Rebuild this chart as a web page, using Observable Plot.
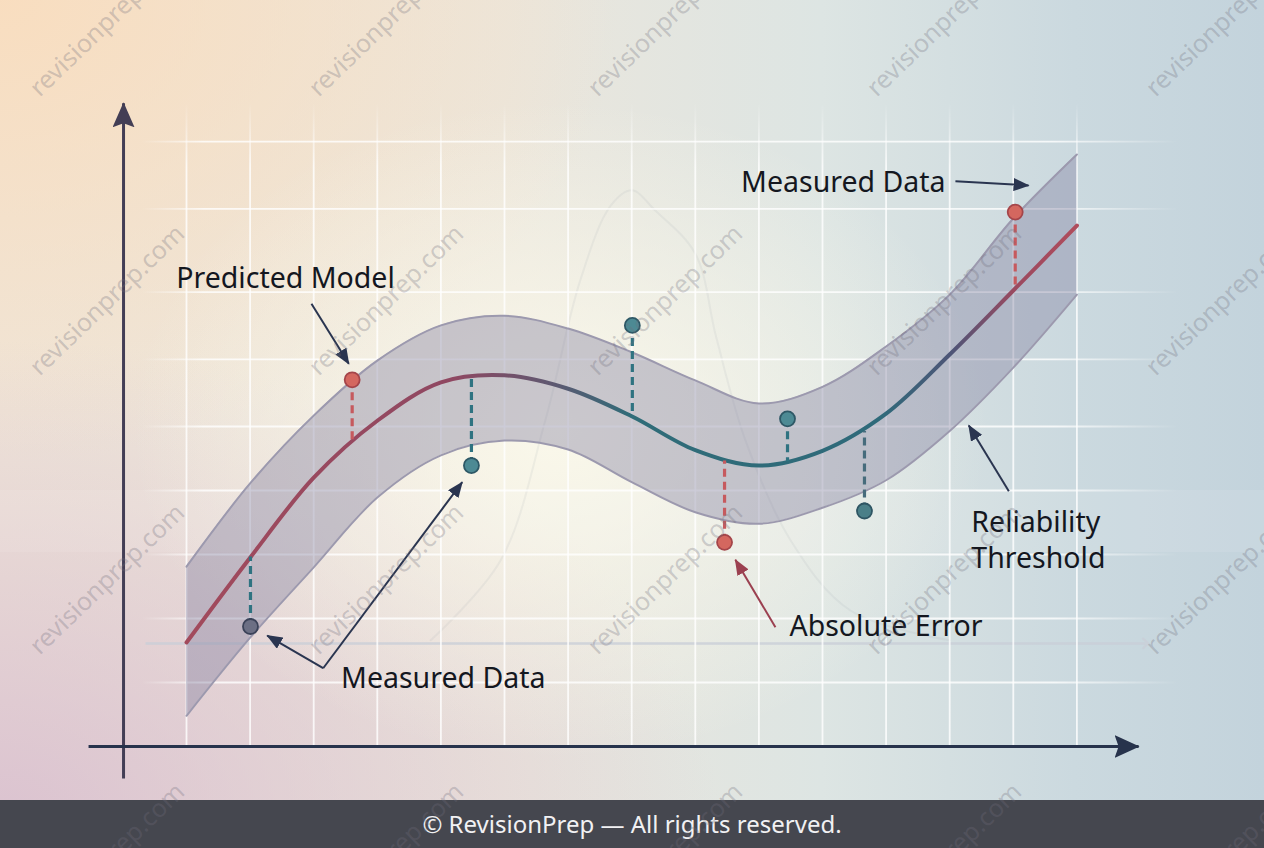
<!DOCTYPE html>
<html>
<head>
<meta charset="utf-8">
<script src="https://cdn.jsdelivr.net/npm/d3@7"></script>
<script src="https://cdn.jsdelivr.net/npm/@observablehq/plot@0.6"></script>
<style>
  html, body { margin: 0; padding: 0; }
  #wrap {
    position: relative; width: 1264px; height: 848px; overflow: hidden;
    font-family: "Noto Sans", sans-serif;
    background:
      radial-gradient(ellipse 430px 330px at 560px 430px, rgba(252,250,236,0.9), rgba(252,250,236,0) 100%),
      radial-gradient(ellipse 720px 480px at 0px 820px, rgba(214,186,206,0.8), rgba(214,186,206,0) 100%),
      radial-gradient(ellipse 620px 460px at 0px 0px, rgba(249,221,190,0.95), rgba(249,221,190,0) 100%),
      linear-gradient(90deg, #efe5d8 0%, #ebe6dc 40%, #dde5e3 65%, #cbd9df 85%, #c3d3dc 100%);
  }
  #chart { position: absolute; left: 0; top: 0; }
  #footer {
    position: absolute; left: 0; top: 800px; width: 1264px; height: 48px;
    background: #45474f; color: #f1f1f3; font-size: 24px; line-height: 48px;
    text-align: center; z-index: 1;
  }
  #wm { position: absolute; left: 0; top: 0; width: 1264px; height: 848px; pointer-events: none; z-index: 2; }
  #wm span {
    position: absolute; white-space: nowrap; font-size: 25px;
    color: rgba(112,110,124,0.30);
    transform: translate(-50%, -50%) rotate(-44deg);
  }
</style>
</head>
<body>
<div id="wrap">
  <div id="chart"></div>
  <div id="footer">© RevisionPrep — All rights reserved.</div>
  <div id="wm"></div>
</div>
<script>
// ---------- data ----------
const gridX = [0, 1, 2, 3, 4, 5, 6, 7, 8, 9, 10, 11, 12, 13, 14];
const gridY = [1, 2, 3, 4, 5, 6.05, 7.1, 8.4, 9.45];

const bandX     = [0, 1, 2, 3, 4, 5, 6, 7, 8, 9, 10, 11, 12, 13, 14];
const bandUpper = [2.81, 4.11, 5.17, 6.03, 6.58, 6.73, 6.53, 6.16, 5.72, 5.36, 5.62, 6.25, 7.06, 8.25, 9.25];
const bandLower = [0.48, 1.70, 2.80, 3.89, 4.55, 4.78, 4.64, 4.13, 3.66, 3.48, 3.73, 4.16, 4.93, 5.92, 7.06];
const modelY    = [1.625, 2.95, 4.20, 5.09, 5.69, 5.80, 5.59, 5.16, 4.63, 4.39, 4.62, 5.20, 6.125, 7.125, 8.14];

const measX     = [2.605, 4.48, 7.01, 8.46, 9.45, 10.66, 13.03, 1.006];
const measY     = [5.73, 4.39, 6.58, 3.19, 5.12, 3.68, 8.35, 1.875];
const measModel = [4.72, 5.75, 5.15, 4.46, 4.45, 4.92, 7.16, 2.96];
const measKind  = ["red", "teal", "teal", "red", "teal", "teal2", "red", "slate"];

const bellX = [3.84, 4.94, 5.64, 6.19, 6.67, 7.0, 7.37, 8.0, 8.33, 8.79, 9.5, 10.44, 12.0];
const bellY = [1.66, 2.91, 5.09, 7.28, 8.45, 8.69, 8.375, 7.70, 6.39, 4.78, 3.22, 2.125, 1.66];

const labels = ["Predicted Model", "Measured Data", "Measured Data", "Absolute Error", "Reliability", "Threshold"];
const labelX = [-0.16, 8.72, 2.43, 9.48, 12.34, 12.34];
const labelY = [7.30, 8.80, 1.06, 1.866, 3.49, 2.93];

const arrowX1 = [1.965, 12.09, 2.149, 2.149, 9.26, 12.93];
const arrowY1 = [6.917, 8.833, 1.223, 1.223, 1.864, 3.989];
const arrowX2 = [2.552, 13.24, 1.269, 4.335, 8.63, 12.30];
const arrowY2 = [5.98, 8.766, 1.734, 4.13, 2.917, 5.016];
const arrowKind = ["dark", "dark", "dark", "dark", "error", "dark"];

// ---------- styles ----------
const C = {
  dark: "#2a3550", error: "#9b4050", axisY: "#433e55", axisX: "#27334c",
  text: "#14171f", band: "#827fa0", bandEdge: "#9c99ae"
};
const dotFill   = {red: "#d4675f", teal: "#4d8a94", teal2: "#4a7f88", slate: "#6c6f84"};
const dotStroke = {red: "#a4454a", teal: "#2e5866", teal2: "#2e5563", slate: "#3b4258"};
const dashCol   = {red: "#c65a5e", teal: "#2f7381", teal2: "#466c7c", slate: "#2f7381"};

const mIdx = d3.range(measX.length);
const aDark = d3.range(arrowX1.length).filter(i => arrowKind[i] === "dark");
const aErr  = d3.range(arrowX1.length).filter(i => arrowKind[i] === "error");
const bell = bellX.map((x, i) => ({x, y: bellY[i]}));

const chart = Plot.plot({
  width: 1264, height: 800, margin: 0,
  style: {background: "transparent", fontFamily: "'Noto Sans', sans-serif", overflow: "visible"},
  x: {domain: [0, 14], range: [186, 1076.4], axis: null},
  y: {domain: [0, 10], range: [746, 106], axis: null},
  color: {type: "identity"},
  marks: [
    // faint decorative background
    Plot.rect([0], {x1: -2.93, x2: 16.95, y1: 3.03, y2: 4.0, fill: "#ffffff", fillOpacity: 0.09}),
    Plot.line(bell, {x: "x", y: "y", stroke: "#9ba2ad", strokeOpacity: 0.12, strokeWidth: 2, curve: "catmull-rom"}),
    Plot.link([0], {x1: -0.645, x2: 15.08, y1: 1.61, y2: 1.61, stroke: "#c9ced7", strokeWidth: 2.4, strokeOpacity: 0.8, markerEnd: "arrow"}),
    // grid
    Plot.ruleX(gridX, {y1: 0, y2: 10.05, stroke: "url(#vGrid)", strokeWidth: 1.8}),
    Plot.ruleY(gridY, {x1: -0.7, x2: 15.6, stroke: "url(#hGrid)", strokeWidth: 1.8}),
    // reliability band
    Plot.areaY(bandX, {x: d => d, y1: (d, i) => bandLower[i], y2: (d, i) => bandUpper[i], fill: C.band, fillOpacity: 0.4, curve: "catmull-rom"}),
    Plot.line(bandX, {x: d => d, y: (d, i) => bandUpper[i], stroke: C.bandEdge, strokeWidth: 2, curve: "catmull-rom"}),
    Plot.line(bandX, {x: d => d, y: (d, i) => bandLower[i], stroke: C.bandEdge, strokeWidth: 2, curve: "catmull-rom"}),
    // predicted model
    Plot.line(bandX, {x: d => d, y: (d, i) => modelY[i], stroke: "url(#modelGrad)", strokeWidth: 4, curve: "catmull-rom"}),
    // error dashes + measured points
    Plot.ruleX(mIdx, {x: i => measX[i], y1: i => measY[i], y2: i => measModel[i], stroke: i => dashCol[measKind[i]], strokeWidth: 3.2, strokeDasharray: "8 5"}),
    Plot.dot(mIdx, {x: i => measX[i], y: i => measY[i], r: 7.5, fill: i => dotFill[measKind[i]], stroke: i => dotStroke[measKind[i]], strokeWidth: 1.8}),
    // annotation arrows
    Plot.link(aDark, {x1: i => arrowX1[i], y1: i => arrowY1[i], x2: i => arrowX2[i], y2: i => arrowY2[i], stroke: C.dark, strokeWidth: 2}),
    Plot.link(aErr, {x1: i => arrowX1[i], y1: i => arrowY1[i], x2: i => arrowX2[i], y2: i => arrowY2[i], stroke: C.error, strokeWidth: 2}),
    // axes
    Plot.link([0], {x1: -0.99, x2: -0.99, y1: -0.5, y2: 10.05, stroke: C.axisY, strokeWidth: 3}),
    Plot.link([0], {x1: -1.54, x2: 14.97, y1: 0, y2: 0, stroke: C.axisX, strokeWidth: 3}),
    // labels
    Plot.text(d3.range(labels.length), {x: i => labelX[i], y: i => labelY[i], text: i => labels[i], textAnchor: "start", lineAnchor: "middle", fontSize: 28.5, fill: C.text, fontFamily: "'Noto Sans', sans-serif"})
  ]
});

// ---------- gradients & filled arrowheads ----------
const sx = chart.scale("x"), sy = chart.scale("y");
const gx0 = sx.apply(0), gx1 = sx.apply(14);
const defs = document.createElementNS("http://www.w3.org/2000/svg", "defs");
defs.innerHTML = `
<linearGradient id="modelGrad" gradientUnits="userSpaceOnUse" x1="${gx0}" y1="0" x2="${gx1}" y2="0">
  <stop offset="0" stop-color="#a24a5c"/>
  <stop offset="0.3" stop-color="#8f4862"/>
  <stop offset="0.42" stop-color="#5a5a72"/>
  <stop offset="0.5" stop-color="#2f6c78"/>
  <stop offset="0.78" stop-color="#2f6a7a"/>
  <stop offset="0.86" stop-color="#4f5577"/>
  <stop offset="0.93" stop-color="#9a4a60"/>
  <stop offset="1" stop-color="#b04c5c"/>
</linearGradient>
<linearGradient id="vGrid" gradientUnits="userSpaceOnUse" x1="0" y1="${sy.apply(10.05)}" x2="0" y2="${sy.apply(0)}">
  <stop offset="0" stop-color="#ffffff" stop-opacity="0"/>
  <stop offset="0.1" stop-color="#ffffff" stop-opacity="0.8"/>
  <stop offset="1" stop-color="#ffffff" stop-opacity="0.8"/>
</linearGradient>
<linearGradient id="hGrid" gradientUnits="userSpaceOnUse" x1="${sx.apply(-0.7)}" y1="0" x2="${sx.apply(15.6)}" y2="0">
  <stop offset="0" stop-color="#ffffff" stop-opacity="0"/>
  <stop offset="0.06" stop-color="#ffffff" stop-opacity="0.8"/>
  <stop offset="0.88" stop-color="#ffffff" stop-opacity="0.8"/>
  <stop offset="1" stop-color="#ffffff" stop-opacity="0"/>
</linearGradient>
<marker id="mDark" viewBox="0 0 16 13" refX="15" refY="6.5" markerWidth="16" markerHeight="13" markerUnits="userSpaceOnUse" orient="auto"><path d="M0,0L16,6.5L0,13Z" fill="${C.dark}"/></marker>
<marker id="mErr" viewBox="0 0 16 13" refX="15" refY="6.5" markerWidth="16" markerHeight="13" markerUnits="userSpaceOnUse" orient="auto"><path d="M0,0L16,6.5L0,13Z" fill="${C.error}"/></marker>
<marker id="mAxY" viewBox="0 0 25 22" refX="24" refY="11" markerWidth="25" markerHeight="22" markerUnits="userSpaceOnUse" orient="auto"><path d="M0,0L25,11L0,22L4,11Z" fill="${C.axisY}"/></marker>
<marker id="mAxX" viewBox="0 0 25 23" refX="24" refY="11.5" markerWidth="25" markerHeight="23" markerUnits="userSpaceOnUse" orient="auto"><path d="M0,0L25,11.5L0,23L4,11.5Z" fill="${C.axisX}"/></marker>`;
chart.insertBefore(defs, chart.firstChild);
const markerFor = {[C.dark]: "mDark", [C.error]: "mErr", [C.axisY]: "mAxY", [C.axisX]: "mAxX"};
chart.querySelectorAll('g[aria-label="link"]').forEach(g => {
  g.querySelectorAll("path").forEach(p => {
    const s = p.getAttribute("stroke") || g.getAttribute("stroke");
    const m = markerFor[s];
    if (m) p.setAttribute("marker-end", `url(#${m})`);
  });
});
document.getElementById("chart").appendChild(chart);

// ---------- watermark tiles ----------
const wm = document.getElementById("wm");
for (let i = 0; i < 5; i++) {
  for (let j = 0; j < 4; j++) {
    const s = document.createElement("span");
    s.textContent = "revisionprep.com";
    s.style.left = (106 + 279 * i) + "px";
    s.style.top = (20 + 279 * j) + "px";
    wm.appendChild(s);
  }
}
</script>
</body>
</html>
